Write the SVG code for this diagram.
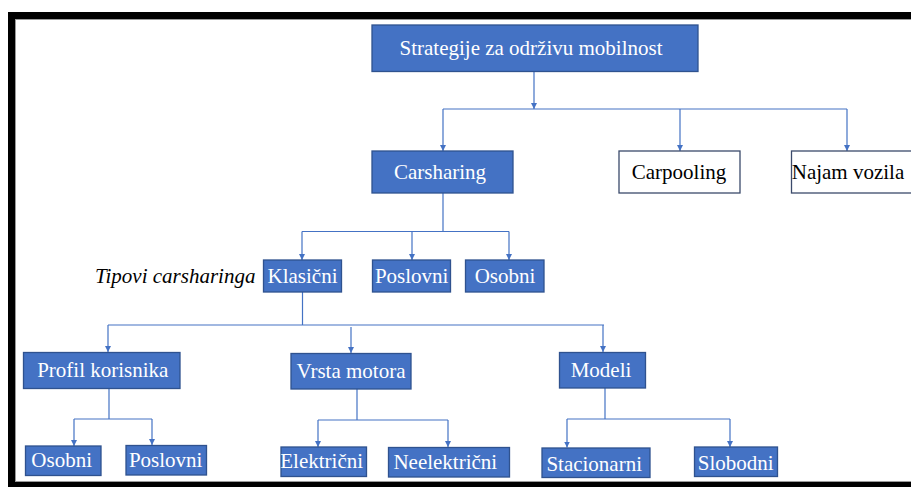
<svg xmlns="http://www.w3.org/2000/svg" width="911" height="487" viewBox="0 0 911 487">
<defs>
<marker id="arr" viewBox="0 0 10 10" refX="10" refY="5" markerWidth="6" markerHeight="6" markerUnits="userSpaceOnUse" orient="auto">
<path d="M0,0 L10,5 L0,10 z" fill="#4472C4"/>
</marker>
<style>
.b{fill:#4472C4;stroke:#2F528F;stroke-width:1.3}
.w{fill:#FFFFFF;stroke:#3B4A6B;stroke-width:1.3}
.t{font-family:"Liberation Serif","Times New Roman",serif;font-size:21px;text-anchor:middle}
.tw{fill:#FFFFFF}
.tk{fill:#000000}
.c{fill:none;stroke:#4472C4;stroke-width:1.2}
.a{marker-end:url(#arr)}
</style>
</defs>
<rect x="0" y="0" width="911" height="487" fill="#FFFFFF"/>
<g id="frame">
<rect x="8" y="12" width="903" height="7" fill="#000000"/>
<rect x="8" y="12" width="7" height="475" fill="#000000"/>
<rect x="8" y="482" width="903" height="5" fill="#000000"/>
<line x1="15" y1="19.5" x2="911" y2="19.5" stroke="#9A9A9A" stroke-width="1"/>
<line x1="15" y1="481.5" x2="911" y2="481.5" stroke="#9A9A9A" stroke-width="1"/>
<line x1="15.5" y1="19" x2="15.5" y2="482" stroke="#9A9A9A" stroke-width="1"/>
</g>
<g id="connectors">
<path class="c a" d="M534,72 V109"/>
<path class="c" d="M443,109 H847"/>
<path class="c a" d="M443,109 V151"/>
<path class="c a" d="M680,109 V151"/>
<path class="c a" d="M847,109 V151"/>
<path class="c" d="M443,193 V231.5"/>
<path class="c" d="M302,231.5 H509"/>
<path class="c a" d="M302,231.5 V260"/>
<path class="c a" d="M412,231.5 V260"/>
<path class="c a" d="M509,231.5 V260"/>
<path class="c" d="M302.5,292 V325"/>
<path class="c" d="M108,325 H604"/>
<path class="c a" d="M108,325 V352"/>
<path class="c a" d="M351,327 V353"/>
<path class="c a" d="M603,325 V352"/>
<path class="c" d="M109,388 V419"/>
<path class="c" d="M74,419 H152"/>
<path class="c a" d="M74,419 V446"/>
<path class="c a" d="M152,419 V445"/>
<path class="c" d="M357,389 V420"/>
<path class="c" d="M318,420 H448"/>
<path class="c a" d="M318,420 V447"/>
<path class="c a" d="M448,420 V447"/>
<path class="c" d="M605,388 V419"/>
<path class="c" d="M567,419 H730"/>
<path class="c a" d="M567,419 V447.5"/>
<path class="c a" d="M730,419 V447"/>
</g>
<g id="strategije">
<rect class="b" x="372" y="25" width="326" height="46.5"/>
<text class="t tw" x="531" y="55">Strategije za održivu mobilnost</text>
</g>
<g id="carsharing">
<rect class="b" x="372" y="151" width="141" height="42"/>
<text class="t tw" x="440" y="179">Carsharing</text>
</g>
<g id="carpooling">
<rect class="w" x="619" y="151" width="121" height="42"/>
<text class="t tk" x="679" y="179">Carpooling</text>
</g>
<g id="najam">
<rect class="w" x="791.5" y="151" width="125" height="42"/>
<text class="t tk" x="848" y="179">Najam vozila</text>
</g>
<g id="tipovi">
<text x="95" y="283" font-family="'Liberation Serif','Times New Roman',serif" font-size="21" font-style="italic" fill="#000000">Tipovi carsharinga</text>
</g>
<g id="klasicni">
<rect class="b" x="263.5" y="260" width="78" height="32"/>
<text class="t tw" x="302.5" y="283">Klasični</text>
</g>
<g id="poslovni1">
<rect class="b" x="372.5" y="260" width="78" height="32"/>
<text class="t tw" x="411.7" y="283">Poslovni</text>
</g>
<g id="osobni1">
<rect class="b" x="465.5" y="260" width="78.5" height="32"/>
<text class="t tw" x="505" y="283">Osobni</text>
</g>
<g id="profil">
<rect class="b" x="23.5" y="352.5" width="156.5" height="36"/>
<text class="t tw" x="102.8" y="377">Profil korisnika</text>
</g>
<g id="vrsta">
<rect class="b" x="291" y="353.5" width="120" height="35.5"/>
<text class="t tw" x="351" y="378">Vrsta motora</text>
</g>
<g id="modeli">
<rect class="b" x="559.5" y="352.5" width="86" height="35.5"/>
<text class="t tw" x="601" y="377">Modeli</text>
</g>
<g id="osobni2">
<rect class="b" x="25.5" y="446" width="75.5" height="29.5"/>
<text class="t tw" x="61.7" y="467">Osobni</text>
</g>
<g id="poslovni2">
<rect class="b" x="126" y="445.5" width="80.5" height="29.5"/>
<text class="t tw" x="165.7" y="467">Poslovni</text>
</g>
<g id="elektricni">
<rect class="b" x="281" y="447" width="85.5" height="29.5"/>
<text class="t tw" x="321.7" y="468">Električni</text>
</g>
<g id="neelektricni">
<rect class="b" x="388.5" y="447.5" width="121" height="29.5"/>
<text class="t tw" x="445.3" y="469">Neelektrični</text>
</g>
<g id="stacionarni">
<rect class="b" x="542" y="448" width="108" height="29.5"/>
<text class="t tw" x="594.2" y="471">Stacionarni</text>
</g>
<g id="slobodni">
<rect class="b" x="694.5" y="447" width="83" height="29.5"/>
<text class="t tw" x="735.8" y="470">Slobodni</text>
</g>
</svg>
